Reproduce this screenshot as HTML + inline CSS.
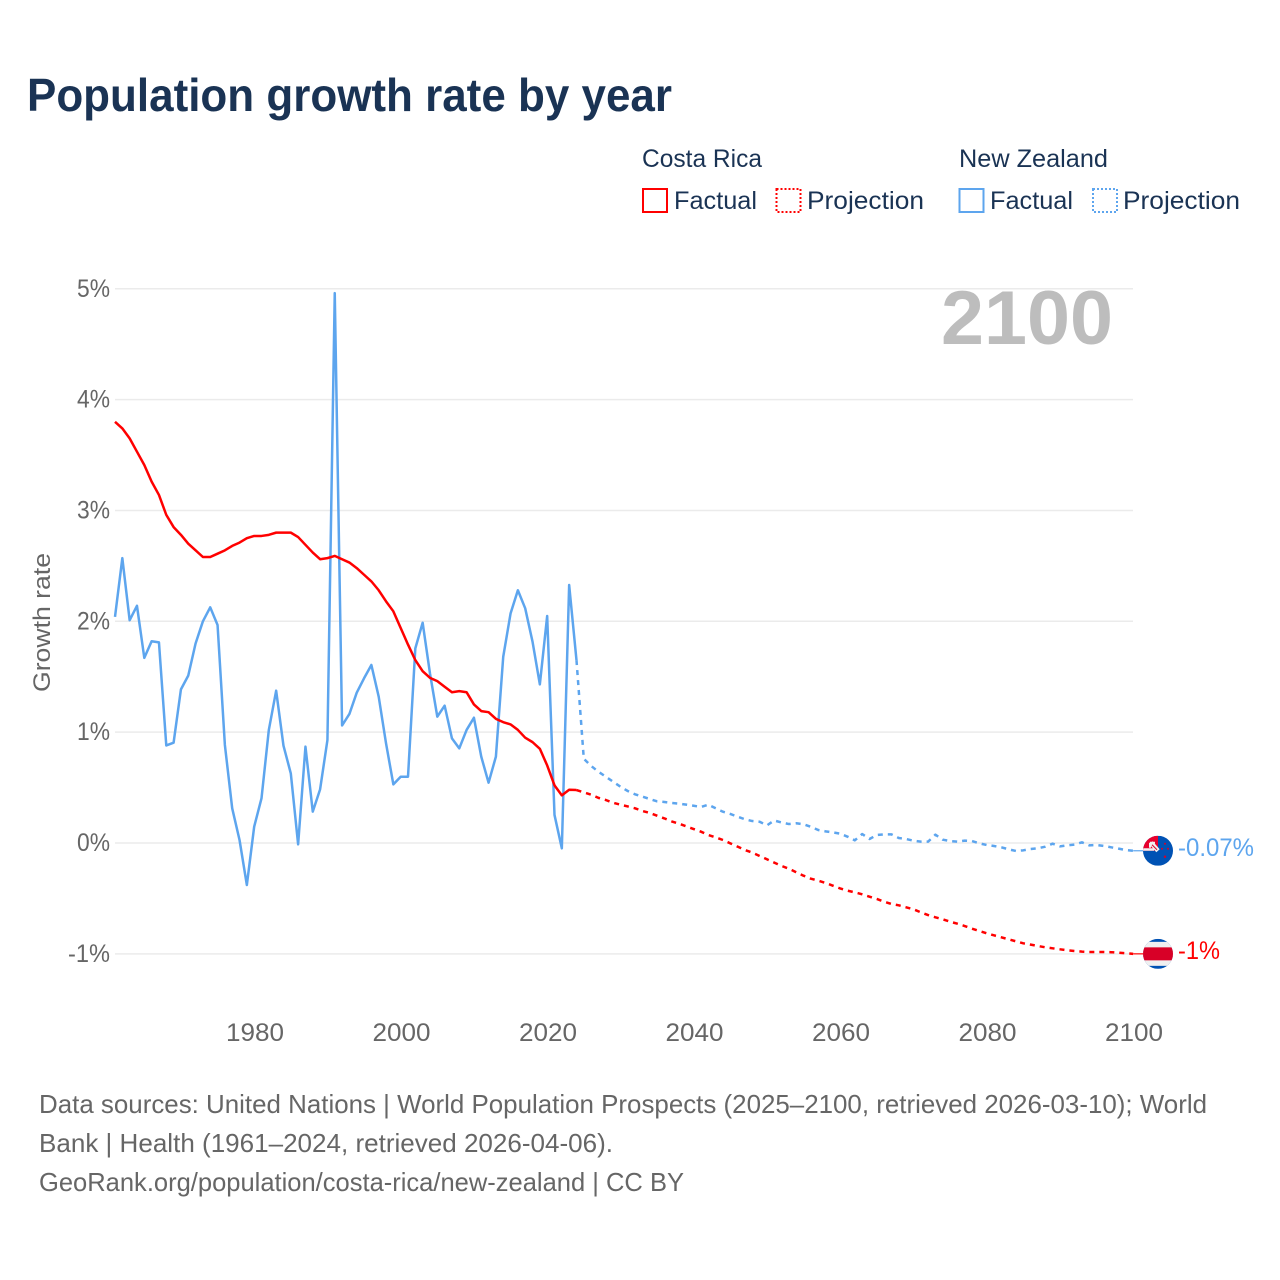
<!DOCTYPE html>
<html lang="en">
<head>
<meta charset="utf-8">
<title>Population growth rate by year</title>
<style>
html,body{margin:0;padding:0;background:#fff;width:1280px;height:1280px;overflow:hidden}
svg{display:block}
text{font-family:"Liberation Sans",sans-serif}
</style>
</head>
<body>
<svg id="chart" xmlns="http://www.w3.org/2000/svg" width="1280" height="1280" viewBox="0 0 1280 1280">
  <rect width="1280" height="1280" fill="#fff"/>
  <text x="27" y="111" font-size="46" font-weight="700" fill="#1a3354" textLength="645" lengthAdjust="spacingAndGlyphs">Population growth rate by year</text>

  <g>
    <text x="642" y="167" font-size="25" fill="#1a3354" textLength="120" lengthAdjust="spacingAndGlyphs">Costa Rica</text>
    <text x="959" y="167" font-size="25" fill="#1a3354" textLength="149" lengthAdjust="spacingAndGlyphs">New Zealand</text>
    <rect x="643" y="189" width="24" height="23" fill="none" stroke="#ff0000" stroke-width="2"/>
    <text x="674" y="209" font-size="25" fill="#1a3354" textLength="83" lengthAdjust="spacingAndGlyphs">Factual</text>
    <rect x="776.5" y="189" width="24" height="23" fill="none" stroke="#ff0000" stroke-width="2" stroke-dasharray="2 2"/>
    <text x="807" y="209" font-size="25" fill="#1a3354" textLength="117" lengthAdjust="spacingAndGlyphs">Projection</text>
    <rect x="959.5" y="189" width="24" height="23" fill="none" stroke="#5da5ee" stroke-width="2"/>
    <text x="990" y="209" font-size="25" fill="#1a3354" textLength="83" lengthAdjust="spacingAndGlyphs">Factual</text>
    <rect x="1093" y="189" width="24" height="23" fill="none" stroke="#5da5ee" stroke-width="2" stroke-dasharray="2 2"/>
    <text x="1123" y="209" font-size="25" fill="#1a3354" textLength="117" lengthAdjust="spacingAndGlyphs">Projection</text>
  </g>

  <g id="grid"></g>
  <g id="yticks"></g>
  <g id="xticks"></g>
  <text transform="translate(50 622.5) rotate(-90)" text-anchor="middle" font-size="24" fill="#666" textLength="139" lengthAdjust="spacingAndGlyphs">Growth rate</text>
  <text x="941" y="344" font-size="76" font-weight="700" fill="#bdbdbd" textLength="172" lengthAdjust="spacingAndGlyphs">2100</text>

  <g id="series"></g>

  <defs>
    <clipPath id="clip-nz"><circle cx="0" cy="0" r="15"/></clipPath>
    <clipPath id="clip-cr"><circle cx="0" cy="0" r="15"/></clipPath>
  </defs>

  <g id="flag-nz">
    <g clip-path="url(#clip-nz)">
      <rect x="-15" y="-15" width="30" height="30" fill="#0052b4"/>
      <rect x="-15" y="-15" width="15" height="15" fill="#e8002d"/>
      <path d="M-7-8L0 0" stroke="#f0f0f0" stroke-width="4.5" fill="none"/>
      <path d="M-8-8h5M-8-8v5" stroke="#f0f0f0" stroke-width="2" fill="none"/>
      <path d="M-6-6L-1-1" stroke="#d80027" stroke-width="1" fill="none"/>
      <rect x="-15" y="-2.5" width="11" height="2.5" fill="#f0f0f0"/>
      <circle cx="4" cy="-2" r="1" fill="#d80027"/>
      <circle cx="10" cy="-2" r="1" fill="#d80027"/>
      <circle cx="7" cy="-7" r="1" fill="#d80027"/>
      <circle cx="7" cy="6" r="1.2" fill="#d80027"/>
    </g>
  </g>
  <g id="flag-cr">
    <g clip-path="url(#clip-cr)">
      <rect x="-15" y="-15" width="30" height="30" fill="#0052b4"/>
      <rect x="-15" y="-12" width="30" height="24" fill="#f0f0f0"/>
      <rect x="-15" y="-6.5" width="30" height="13" fill="#d80027"/>
    </g>
  </g>
  <text id="label-nz" x="1178" font-size="25" fill="#5da5ee" textLength="76" lengthAdjust="spacingAndGlyphs">-0.07%</text>
  <text id="label-cr" x="1178" font-size="25" fill="#ff0000" textLength="42" lengthAdjust="spacingAndGlyphs">-1%</text>

  <g fill="#666" font-size="26">
    <text x="39" y="1113" textLength="1168" lengthAdjust="spacingAndGlyphs">Data sources: United Nations | World Population Prospects (2025–2100, retrieved 2026-03-10); World</text>
    <text x="39" y="1152" textLength="574" lengthAdjust="spacingAndGlyphs">Bank | Health (1961–2024, retrieved 2026-04-06).</text>
    <text x="39" y="1191" textLength="645" lengthAdjust="spacingAndGlyphs">GeoRank.org/population/costa-rica/new-zealand | CC BY</text>
  </g>
</svg>

<script>
const yTickValues = [5, 4, 3, 2, 1, 0, -1];
const yTickLabels = ["5%", "4%", "3%", "2%", "1%", "0%", "-1%"];
const xTickYears = [1980, 2000, 2020, 2040, 2060, 2080, 2100];
const xTickLabels = ["1980", "2000", "2020", "2040", "2060", "2080", "2100"];
const factualStartYear = 1961;
const projectionStartYear = 2024;

const costaRicaFactual = [
  3.80,3.74,3.65,3.53,3.41,3.26,3.14,2.96,2.85,2.78,
  2.70,2.64,2.58,2.58,2.61,2.64,2.68,2.71,2.75,2.77,
  2.77,2.78,2.80,2.80,2.80,2.76,2.69,2.62,2.56,2.57,
  2.59,2.56,2.53,2.48,2.42,2.36,2.28,2.18,2.09,1.94,
  1.79,1.65,1.55,1.49,1.46,1.41,1.36,1.37,1.36,1.25,
  1.19,1.18,1.12,1.09,1.07,1.02,0.95,0.91,0.85,0.70,
  0.52,0.43,0.48,0.478
];
const newZealandFactual = [
  2.04,2.57,2.01,2.14,1.67,1.82,1.81,0.88,0.905,1.386,
  1.51,1.80,2.00,2.126,1.967,0.884,0.313,0.027,-0.379,0.147,
  0.403,1.02,1.374,0.878,0.628,-0.012,0.869,0.283,0.484,0.929,
  4.96,1.06,1.164,1.356,1.486,1.606,1.32,0.899,0.529,0.598,
  0.598,1.756,1.987,1.53,1.14,1.239,0.944,0.854,1.02,1.13,
  0.779,0.544,0.779,1.68,2.07,2.28,2.117,1.816,1.431,2.048,
  0.253,-0.048,2.327,1.65
];
const costaRicaProjection = [
  0.478,0.457,0.436,0.407,0.388,0.363,0.346,0.33,0.313,0.289,
  0.271,0.246,0.222,0.195,0.174,0.15,0.126,0.102,0.072,0.051,
  0.027,-0.003,-0.033,-0.063,-0.087,-0.117,-0.147,-0.177,-0.207,-0.232,
  -0.264,-0.295,-0.322,-0.34,-0.36,-0.385,-0.41,-0.43,-0.445,-0.463,
  -0.484,-0.505,-0.529,-0.55,-0.562,-0.58,-0.598,-0.625,-0.65,-0.67,
  -0.688,-0.71,-0.728,-0.749,-0.773,-0.794,-0.815,-0.833,-0.851,-0.869,
  -0.887,-0.905,-0.917,-0.929,-0.941,-0.95,-0.959,-0.968,-0.974,-0.98,
  -0.983,-0.983,-0.983,-0.985,-0.99,-0.995,-1
];
const newZealandProjection = [
  1.65,0.76,0.695,0.643,0.598,0.553,0.508,0.469,0.439,0.418,
  0.397,0.376,0.37,0.361,0.355,0.346,0.336,0.325,0.346,0.313,
  0.282,0.262,0.237,0.214,0.198,0.192,0.159,0.203,0.185,0.171,
  0.178,0.169,0.146,0.117,0.105,0.096,0.084,0.057,0.024,0.081,
  0.036,0.072,0.078,0.078,0.045,0.036,0.021,0.012,0.012,0.075,
  0.03,0.018,0.012,0.021,0.018,-0.003,-0.018,-0.027,-0.039,-0.057,
  -0.072,-0.066,-0.054,-0.048,-0.033,-0.006,-0.03,-0.021,-0.015,0.006,
  -0.021,-0.018,-0.027,-0.039,-0.051,-0.063,-0.07
];

const SVG_NS = "http://www.w3.org/2000/svg";
const COLOR_RED = "#ff0000";
const COLOR_BLUE = "#5da5ee";

function xScale(year) { return 115 + (year - 1961) * 7.325; }
function yScale(value) { return 843 - value * 110.85; }

function linePath(values, startYear) {
  return values.map(function (v, i) {
    return (i ? "L" : "M") + xScale(startYear + i).toFixed(2) + " " + yScale(v).toFixed(2);
  }).join("");
}

const gridGroup = document.getElementById("grid");
const yTickGroup = document.getElementById("yticks");
const xTickGroup = document.getElementById("xticks");
const seriesGroup = document.getElementById("series");

yTickValues.forEach(function (v, i) {
  const line = document.createElementNS(SVG_NS, "line");
  line.setAttribute("x1", 115);
  line.setAttribute("x2", 1133);
  line.setAttribute("y1", yScale(v));
  line.setAttribute("y2", yScale(v));
  line.setAttribute("stroke", "#ebebeb");
  line.setAttribute("stroke-width", "1.5");
  
  
  gridGroup.appendChild(line);

  const text = yTickLabels[i];
  const label = document.createElementNS(SVG_NS, "text");
  label.setAttribute("x", 110);
  label.setAttribute("y", yScale(v) + 8);
  label.setAttribute("text-anchor", "end");
  label.setAttribute("font-size", "25");
  label.setAttribute("fill", "#666");
  label.setAttribute("textLength", 33 + (text.length - 2) * 9);
  label.setAttribute("lengthAdjust", "spacingAndGlyphs");
  label.textContent = text;
  
  
  yTickGroup.appendChild(label);
});

xTickYears.forEach(function (year, i) {
  const label = document.createElementNS(SVG_NS, "text");
  label.setAttribute("x", xScale(year) + 0.8);
  label.setAttribute("y", 1041);
  label.setAttribute("text-anchor", "middle");
  label.setAttribute("font-size", "25");
  label.setAttribute("fill", "#666");
  label.setAttribute("textLength", "58");
  label.setAttribute("lengthAdjust", "spacingAndGlyphs");
  label.textContent = xTickLabels[i];
  
  
  xTickGroup.appendChild(label);
});

function addLine(values, startYear, color, dashed, name) {
  const path = document.createElementNS(SVG_NS, "path");
  path.setAttribute("d", linePath(values, startYear));
  path.setAttribute("fill", "none");
  path.setAttribute("stroke", color);
  path.setAttribute("stroke-width", "2.5");
  path.setAttribute("stroke-linejoin", "round");
  if (dashed) path.setAttribute("stroke-dasharray", "5 5");
  
  
  seriesGroup.appendChild(path);
}

addLine(newZealandFactual, factualStartYear, COLOR_BLUE, false, "new-zealand-factual-line");
addLine(newZealandProjection, projectionStartYear, COLOR_BLUE, true, "new-zealand-projection-line");
addLine(costaRicaFactual, factualStartYear, COLOR_RED, false, "costa-rica-factual-line");
addLine(costaRicaProjection, projectionStartYear, COLOR_RED, true, "costa-rica-projection-line");

function placeEnd(flagId, labelId, values, color, name) {
  const last = values[values.length - 1];
  const lastX = xScale(projectionStartYear + values.length - 1);
  const y = yScale(last);
  document.getElementById(flagId).setAttribute("transform", "translate(1158 " + y.toFixed(2) + ")");
  document.getElementById(labelId).setAttribute("y", (y + 5).toFixed(2));
  const connector = document.createElementNS(SVG_NS, "line");
  connector.setAttribute("x1", lastX);
  connector.setAttribute("x2", 1143);
  connector.setAttribute("y1", y);
  connector.setAttribute("y2", y);
  connector.setAttribute("stroke", color);
  connector.setAttribute("stroke-width", "1.2");
  
  
  seriesGroup.appendChild(connector);
}

placeEnd("flag-nz", "label-nz", newZealandProjection, COLOR_BLUE, "new-zealand-flag-connector");
placeEnd("flag-cr", "label-cr", costaRicaProjection, COLOR_RED, "costa-rica-flag-connector");
</script>
</body>
</html>
